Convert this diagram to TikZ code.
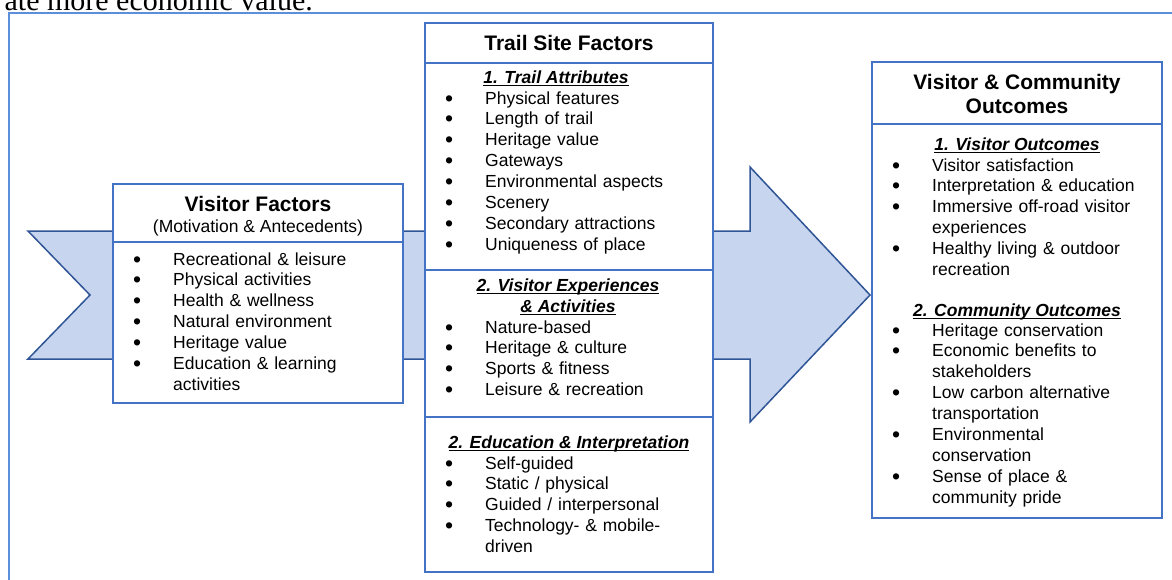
\documentclass[tikz,border=0pt]{standalone}
\usepackage{fontspec}
\setmainfont{Liberation Sans}
\newfontfamily\docserif{Liberation Serif}
\usepackage{tikz}
\usepackage{xcolor}

\definecolor{boxblue}{HTML}{4472C4}
\definecolor{frameblue}{HTML}{5B8FDB}
\definecolor{arrowfill}{HTML}{C7D6EE}
\definecolor{arrowline}{HTML}{2F5597}

% bullet line with hanging indent for wrapped text
\newcommand{\bitem}[1]{\hangindent=43pt\hangafter=1\noindent\makebox[43pt][l]{\hspace{3pt}\raisebox{-2pt}{\fontsize{23}{20}\selectfont\textbullet}}#1\par}
% underline sitting just under the baseline
\newsavebox{\headbox}
\newcommand{\headul}[1]{\sbox{\headbox}{#1}\rlap{\rule[-2.6pt]{\wd\headbox}{1.1pt}}\usebox{\headbox}}

\tikzset{
  boxline/.style={draw=boxblue, line width=2pt, fill=white},
  boxtitle/.style={font=\fontsize{21}{24}\selectfont\bfseries, inner sep=0pt, anchor=base, align=center},
  subhead/.style={font=\fontsize{17.5}{20.5}\selectfont\bfseries\itshape, inner sep=0pt, anchor=base, align=center},
  plaintext/.style={font=\fontsize{17.5}{20.9}\selectfont, inner sep=0pt, anchor=base},
  itemlist/.style={font=\fontsize{17.5}{20.9}\selectfont, inner sep=0pt, anchor=base west, text width=260pt},
}

\begin{document}
\begin{tikzpicture}[x=1pt,y=1pt,yscale=-1,xscale=1]
		\useasboundingbox (0,0) rectangle (1172,579);
		
		% Text Node
		\draw (313,10) node (pagetext) [anchor=base east, inner sep=0pt, font=\docserif\fontsize{30}{32}\selectfont] {ate more economic value.};
		
		%Shape: Rectangle [frame]
		\draw [frameblue, line width=2pt] (9,13) rectangle (1190,600);
		
		%Shape: Right Arrow, notched
		\draw [arrowline, fill=arrowfill, line width=1.5pt, line join=miter] (28,231) -- (750,231) -- (750,167) -- (870,295) -- (750,422) -- (750,359) -- (28,359) -- (90,295) -- cycle;
		
		%Shape: Rectangle [visitor factors]
		\draw [boxline] (113,184) rectangle (403,242);
		\draw [boxline] (113,242) rectangle (403,403);
		%Shape: Rectangle [trail site factors]
		\draw [boxline] (425,23) rectangle (713,63);
		\draw [boxline] (425,63) rectangle (713,270);
		\draw [boxline] (425,270) rectangle (713,417);
		\draw [boxline] (425,417) rectangle (713,572);
		%Shape: Rectangle [outcomes]
		\draw [boxline] (872,62) rectangle (1162,124);
		\draw [boxline] (872,124) rectangle (1162,518);
		
		% Text Node
		\draw (258,211.5) node (vftitle) [boxtitle] {Visitor Factors};
		% Text Node
		\draw (258,232) node (vfsub) [plaintext] {(Motivation \& Antecedents)};
		% Text Node
		\draw (130,265) node (vflist) [itemlist] {\bitem{Recreational \& leisure}\bitem{Physical activities}\bitem{Health \& wellness}\bitem{Natural environment}\bitem{Heritage value}\bitem{Education \& learning\newline activities}};
		
		% Text Node
		\draw (569,50.5) node (tstitle) [boxtitle] {Trail Site Factors};
		% Text Node
		\draw (556,83) node (attrhead) [subhead] {\headul{1. Trail Attributes}};
		% Text Node
		\draw (442,104) node (attrlist) [itemlist] {\bitem{Physical features}\bitem{Length of trail}\bitem{Heritage value}\bitem{Gateways}\bitem{Environmental aspects}\bitem{Scenery}\bitem{Secondary attractions}\bitem{Uniqueness of place}};
		% Text Node
		\draw (568,312) node (exphead) [subhead] {\headul{2. Visitor Experiences}\\\headul{\& Activities}};
		% Text Node
		\draw (442,333) node (explist) [itemlist] {\bitem{Nature-based}\bitem{Heritage \& culture}\bitem{Sports \& fitness}\bitem{Leisure \& recreation}};
		% Text Node
		\draw (569,448) node (eduhead) [subhead] {\headul{2. Education \& Interpretation}};
		% Text Node
		\draw (442,469) node (edulist) [itemlist] {\bitem{Self-guided}\bitem{Static / physical}\bitem{Guided / interpersonal}\bitem{Technology- \& mobile-\newline driven}};
		
		% Text Node
		\draw (1017,113.5) node (outtitle) [boxtitle] {Visitor \& Community\\Outcomes};
		% Text Node
		\draw (1017,150) node (vohead) [subhead] {\headul{1. Visitor Outcomes}};
		% Text Node
		\draw (889,171) node (volist) [itemlist] {\bitem{Visitor satisfaction}\bitem{Interpretation \& education}\bitem{Immersive off-road visitor\newline experiences}\bitem{Healthy living \& outdoor\newline recreation}};
		% Text Node
		\draw (1017,316) node (cohead) [subhead] {\headul{2. Community Outcomes}};
		% Text Node
		\draw (889,336) node (colist) [itemlist] {\bitem{Heritage conservation}\bitem{Economic benefits to\newline stakeholders}\bitem{Low carbon alternative\newline transportation}\bitem{Environmental\newline conservation}\bitem{Sense of place \&\newline community pride}};
		
\end{tikzpicture}
\end{document}
